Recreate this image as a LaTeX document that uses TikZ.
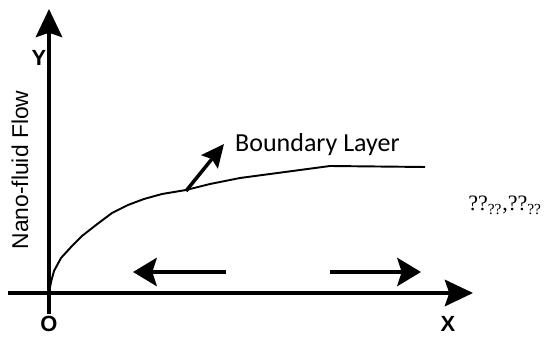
\documentclass[tikz,border=0pt]{standalone}
\usepackage{fontspec}
\setmainfont{Liberation Serif}
\newfontfamily\arial{Liberation Sans}
\newfontfamily\calibri{Carlito}
\usetikzlibrary{arrows.meta}
\tikzset{
  axis/.style={line width=2.3pt, -{Stealth[length=16pt, width=15pt, inset=2.5pt]}},
  flowarrow/.style={line width=2.3pt, -{Stealth[length=13.5pt, width=16pt, inset=2.5pt]}},
  axislabel/.style={font=\arial\bfseries\fontsize{12.5}{14}\selectfont},
}
\begin{document}
\begin{tikzpicture}[x=0.02cm, y=-0.02cm]
  \useasboundingbox (0,0) rectangle (544,340);
  % axes
  \coordinate (O) at (49,293);
  \coordinate (ybot) at (49,314);
  \coordinate (ytop) at (49,9);
  \coordinate (xleft) at (8,293);
  \coordinate (xright) at (473,293);
  \draw[axis] (ybot) -- (ytop);
  \draw[axis] (xleft) -- (xright);
  \node[axislabel] (ylab) at (39,58) {Y};
  \node[axislabel] (olab) at (49,324) {O};
  \node[axislabel] (xlab) at (448,324) {X};
  \node[rotate=90, font=\arial\fontsize{13}{15}\selectfont] (flow) at (20,170) {Nano-fluid Flow};
  % boundary layer profile
  \coordinate (bl) at (425,167);
  \draw[line width=1.1pt] (O) -- (51,282) -- (54,271) -- (61,258) -- (72,246) -- (82,236)
    -- (96,225) -- (112,213) -- (128,205) -- (144,199) -- (162,194) -- (186,190)
    -- (210,184) -- (240,178) -- (270,174) -- (300,170) -- (315,168) -- (330,166) -- (bl);
  \coordinate (blfoot) at (186,191);
  \node[anchor=west, font=\calibri\fontsize{14.8}{17}\selectfont] (bllab) at (229,145) {Boundary Layer};
  \coordinate (bltip) at (224,144);
  \draw[line width=2pt, -{Stealth[length=13pt, width=12pt, inset=2pt]}] (blfoot) -- (bltip);
  % flow directions
  \coordinate (la) at (226,272);
  \coordinate (lb) at (133,272);
  \coordinate (ra) at (330,272);
  \coordinate (rb) at (421,272);
  \draw[flowarrow] (la) -- (lb);
  \draw[flowarrow] (ra) -- (rb);
  \node[anchor=base west, font=\fontsize{12.5}{14}\selectfont, inner sep=0pt] (vel) at (468,211)
    {??\textsubscript{??},??\textsubscript{??}};
\end{tikzpicture}
\end{document}
